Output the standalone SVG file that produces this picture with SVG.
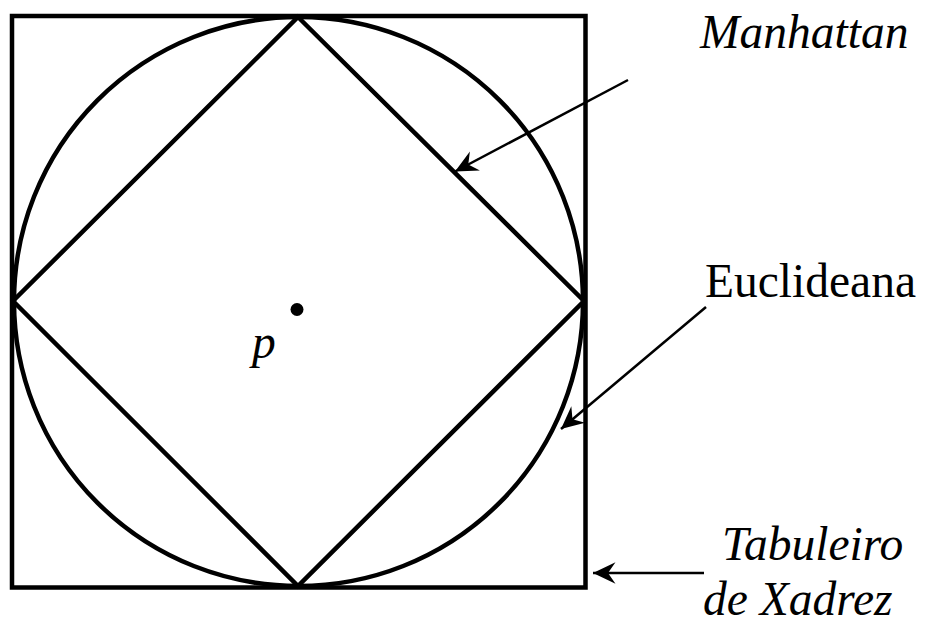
<svg xmlns="http://www.w3.org/2000/svg" width="929" height="626" viewBox="0 0 929 626">
<defs>
<style>
.shape{fill:none;stroke:#000;stroke-width:4.5}
.conn{fill:none;stroke:#000;stroke-width:2.5}
.lbl{font-family:"Liberation Serif","Times New Roman",serif;font-size:47.5px;fill:#000}
.it{font-style:italic}
</style>
<marker id="ah" markerUnits="userSpaceOnUse" markerWidth="30" markerHeight="30" viewBox="-24 -12 28 24" refX="0" refY="0" orient="auto">
<path d="M0,0 L-21,-10 L-14,0 L-21,10 Z" fill="#000"/>
</marker>
</defs>
<rect width="929" height="626" fill="#fff"/>
<g id="chessboard"><rect class="shape" x="12" y="16" width="573.5" height="571.5"/></g>
<g id="euclidean"><circle class="shape" cx="298.5" cy="301.5" r="284.5"/></g>
<g id="manhattan"><polygon class="shape" points="298,17 584,301 298,586 13,301" stroke-linejoin="miter"/></g>
<g id="p"><circle cx="297" cy="309.5" r="6.5" fill="#000"/><text class="lbl it" x="252" y="358">p</text></g>
<g id="connectors">
<line class="conn" x1="628" y1="80" x2="455" y2="171.5" marker-end="url(#ah)"/>
<line class="conn" x1="706" y1="307" x2="561" y2="429" marker-end="url(#ah)"/>
<line class="conn" x1="704" y1="573" x2="593" y2="573" marker-end="url(#ah)"/>
</g>
<g id="labels">
<text class="lbl it" x="700" y="48">Manhattan</text>
<text class="lbl" x="705" y="297">Euclideana</text>
<text class="lbl it" x="722" y="560">Tabuleiro</text>
<text class="lbl it" x="703" y="615">de Xadrez</text>
</g>
</svg>
